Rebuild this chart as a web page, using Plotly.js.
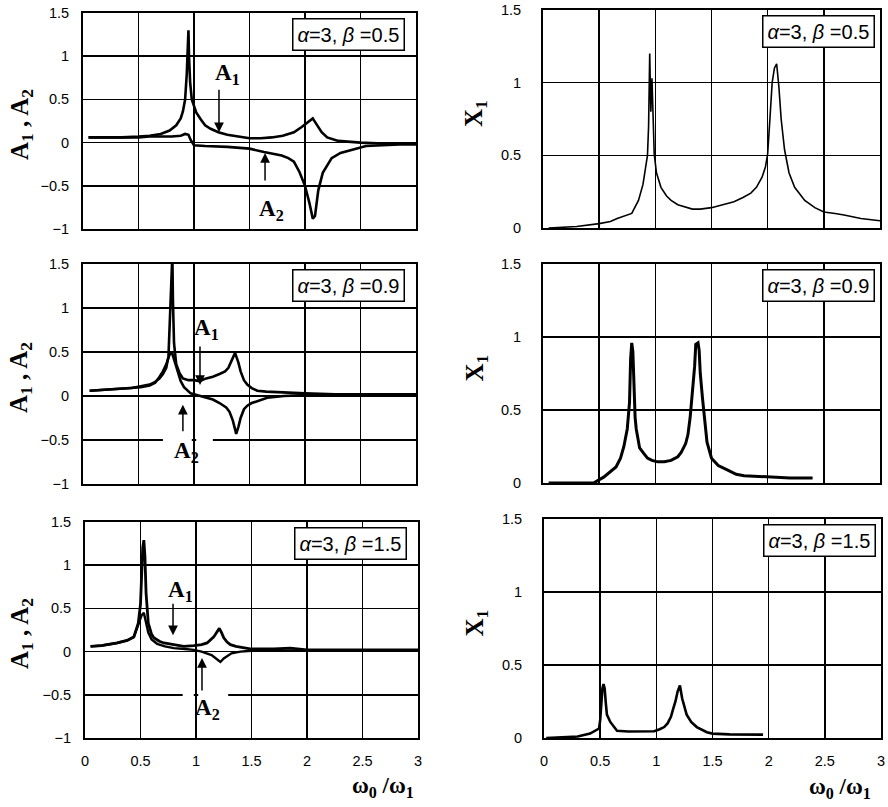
<!DOCTYPE html>
<html>
<head>
<meta charset="utf-8">
<script src="https://cdn.plot.ly/plotly-3.0.1.min.js"></script>
<style>html,body{margin:0;padding:0;background:#fff;}#chart{width:888px;height:807px;}</style>
</head>
<body>
<div id="chart"></div>
<script>
// ---------- data ----------
var betaValues = ['0.5', '0.9', '1.5'];

// beta = 0.5
var xA1_b05 = [0.05,0.2,0.35,0.5,0.6,0.7,0.78,0.84,0.88,0.9,0.92,0.935,0.945,0.95,0.955,0.965,0.98,1.0,1.02,1.06,1.1,1.15,1.22,1.3,1.4,1.5,1.6,1.7,1.8,1.9,1.97,2.02,2.07,2.1,2.15,2.2,2.3,2.5,2.7,3.0];
var yA1_b05 = [0.06,0.06,0.06,0.07,0.08,0.1,0.14,0.2,0.28,0.36,0.5,0.8,1.28,1.3,1.0,0.7,0.5,0.42,0.35,0.27,0.2,0.16,0.12,0.09,0.07,0.05,0.05,0.06,0.08,0.12,0.18,0.23,0.28,0.22,0.12,0.06,0.02,0.0,-0.01,-0.01];
var xA2_b05 = [0.05,0.2,0.35,0.5,0.6,0.7,0.8,0.88,0.92,0.95,0.97,1.0,1.1,1.3,1.5,1.63,1.72,1.79,1.85,1.9,1.95,2.0,2.04,2.07,2.09,2.12,2.16,2.24,2.32,2.4,2.55,2.7,2.85,3.0];
var yA2_b05 = [0.06,0.06,0.06,0.06,0.07,0.07,0.07,0.08,0.1,0.09,0.03,-0.03,-0.04,-0.05,-0.07,-0.11,-0.13,-0.15,-0.18,-0.22,-0.34,-0.5,-0.7,-0.88,-0.85,-0.55,-0.35,-0.18,-0.12,-0.09,-0.04,-0.03,-0.02,-0.02];
var xX1_b05 = [0.05,0.3,0.5,0.6,0.66,0.72,0.79,0.85,0.89,0.91,0.93,0.94,0.945,0.95,0.955,0.96,0.97,0.98,0.99,1.01,1.05,1.1,1.14,1.2,1.26,1.33,1.4,1.5,1.6,1.7,1.78,1.85,1.9,1.95,1.98,2.0,2.02,2.04,2.06,2.08,2.1,2.12,2.15,2.19,2.24,2.33,2.42,2.5,2.6,2.68,2.83,3.0];
var yX1_b05 = [0.0,0.01,0.03,0.045,0.065,0.08,0.1,0.19,0.3,0.4,0.5,0.7,1.0,1.2,1.0,0.8,1.03,0.8,0.51,0.38,0.28,0.22,0.19,0.16,0.145,0.13,0.13,0.14,0.16,0.18,0.21,0.24,0.28,0.35,0.42,0.51,0.75,1.0,1.1,1.13,0.97,0.75,0.54,0.38,0.28,0.19,0.14,0.11,0.1,0.09,0.065,0.05];

// beta = 0.9
var xA1_b09 = [0.06,0.2,0.35,0.44,0.52,0.6,0.65,0.69,0.72,0.75,0.77,0.78,0.79,0.8,0.805,0.81,0.82,0.84,0.87,0.9,0.95,1.0,1.05,1.11,1.17,1.23,1.28,1.31,1.34,1.37,1.4,1.42,1.45,1.48,1.52,1.57,1.65,1.81,2.0,2.27,2.6,3.0];
var yA1_b09 = [0.06,0.07,0.08,0.09,0.11,0.13,0.16,0.2,0.25,0.32,0.45,0.85,1.3,1.6,1.6,1.1,0.6,0.36,0.26,0.2,0.18,0.18,0.17,0.2,0.22,0.25,0.28,0.32,0.4,0.49,0.38,0.28,0.18,0.13,0.09,0.06,0.05,0.04,0.03,0.02,0.02,0.02];
var xA2_b09 = [0.06,0.2,0.35,0.44,0.52,0.6,0.65,0.69,0.72,0.75,0.78,0.8,0.82,0.84,0.86,0.88,0.91,0.94,0.97,1.0,1.08,1.17,1.23,1.29,1.32,1.35,1.37,1.38,1.4,1.42,1.45,1.48,1.52,1.57,1.66,1.81,2.0,2.5,3.0];
var yA2_b09 = [0.06,0.07,0.08,0.09,0.1,0.12,0.15,0.22,0.28,0.36,0.47,0.5,0.42,0.32,0.24,0.17,0.1,0.06,0.03,0.02,-0.01,-0.04,-0.08,-0.13,-0.18,-0.28,-0.38,-0.43,-0.35,-0.25,-0.15,-0.11,-0.08,-0.06,-0.02,0.0,0.01,0.01,0.01];
var xX1_b09 = [0.05,0.3,0.45,0.54,0.6,0.65,0.69,0.72,0.75,0.77,0.78,0.79,0.8,0.81,0.82,0.83,0.86,0.9,0.93,0.97,1.02,1.08,1.14,1.2,1.23,1.27,1.29,1.31,1.33,1.35,1.36,1.38,1.39,1.4,1.42,1.44,1.46,1.5,1.56,1.64,1.72,1.79,1.9,2.0,2.2,2.4];
var yX1_b09 = [0.0,0.0,0.0,0.04,0.075,0.11,0.17,0.25,0.37,0.55,0.85,0.96,0.9,0.65,0.45,0.37,0.24,0.2,0.17,0.155,0.145,0.145,0.155,0.18,0.21,0.27,0.33,0.45,0.6,0.8,0.95,0.96,0.91,0.75,0.58,0.4,0.28,0.17,0.12,0.09,0.06,0.05,0.045,0.04,0.035,0.035];

// beta = 1.5
var xA1_b15 = [0.05,0.15,0.29,0.38,0.44,0.48,0.5,0.51,0.52,0.53,0.54,0.55,0.56,0.57,0.6,0.62,0.67,0.71,0.8,0.89,0.98,1.05,1.1,1.13,1.16,1.19,1.21,1.23,1.25,1.28,1.31,1.36,1.4,1.5,1.7,1.85,2.0,2.25,2.6,3.0];
var yA1_b15 = [0.06,0.07,0.1,0.13,0.17,0.33,0.55,0.88,1.2,1.29,1.1,0.68,0.45,0.33,0.2,0.16,0.12,0.1,0.08,0.06,0.07,0.08,0.1,0.13,0.17,0.23,0.27,0.22,0.16,0.11,0.08,0.06,0.05,0.03,0.03,0.04,0.02,0.02,0.02,0.02];
var xA2_b15 = [0.05,0.15,0.29,0.38,0.44,0.48,0.51,0.53,0.55,0.57,0.6,0.65,0.72,0.8,0.9,0.98,1.05,1.1,1.14,1.18,1.22,1.25,1.28,1.32,1.4,1.5,2.0,2.5,3.0];
var yA2_b15 = [0.06,0.07,0.1,0.13,0.17,0.3,0.42,0.45,0.35,0.22,0.14,0.09,0.06,0.04,0.03,0.02,0.0,-0.02,-0.04,-0.08,-0.12,-0.08,-0.05,-0.02,0.0,0.01,0.01,0.01,0.01];
var xX1_b15 = [0.02,0.3,0.41,0.46,0.49,0.5,0.51,0.52,0.53,0.54,0.55,0.56,0.59,0.65,0.75,0.83,0.98,1.03,1.07,1.1,1.13,1.15,1.17,1.19,1.2,1.21,1.23,1.25,1.27,1.31,1.36,1.45,1.5,1.65,1.77,1.91,1.95];
var yX1_b15 = [0.0,0.01,0.03,0.05,0.065,0.12,0.23,0.34,0.37,0.34,0.24,0.16,0.11,0.05,0.045,0.046,0.046,0.06,0.075,0.1,0.145,0.2,0.25,0.32,0.35,0.36,0.27,0.21,0.16,0.11,0.075,0.04,0.03,0.025,0.025,0.023,0.023];

var xTickVals = [0, 0.5, 1, 1.5, 2, 2.5, 3];
var xTickText = ['0', '0.5', '1', '1.5', '2', '2.5', '3'];
var yTickValsA = [-1, -0.5, 0, 0.5, 1, 1.5];
var yTickTextA = ['\u22121', '\u22120.5', '0', '0.5', '1', '1.5'];
var yTickValsX = [0, 0.5, 1, 1.5];
var yTickTextX = ['0', '0.5', '1', '1.5'];

// ---------- layout helpers ----------
var W = 888, H = 807;
function px(v) { return v / W; }
function py(v) { return 1 - v / H; }

// panel pixel boxes: [left, right, top, bottom]
var boxes = [
  [83, 416, 13, 229],   // TL
  [543, 880, 10, 228],  // TR
  [83, 416, 264, 484],  // ML
  [543, 880, 264, 483], // MR
  [85, 418, 522, 738],  // BL
  [544, 881, 519, 738]  // BR
];

var tickFont = {family: 'Liberation Sans, Arial, sans-serif', size: 14.5, color: '#000'};
var layout = {
  width: W, height: H,
  margin: {l: 0, r: 0, t: 0, b: 0},
  paper_bgcolor: '#fff', plot_bgcolor: '#fff',
  showlegend: false,
  annotations: [],
  shapes: []
};

for (var i = 0; i < 6; i++) {
  var b = boxes[i];
  var n = i + 1;
  var xk = n === 1 ? 'xaxis' : 'xaxis' + n;
  var yk = n === 1 ? 'yaxis' : 'yaxis' + n;
  var isLeft = (i % 2 === 0);
  var isBottom = (i >= 4);
  layout[xk] = {
    domain: [px(b[0]), px(b[1])],
    anchor: n === 1 ? 'y' : 'y' + n,
    range: [0, 3],
    tickvals: xTickVals, ticktext: xTickText,
    showticklabels: isBottom,
    ticks: '', ticklabelstandoff: 9,
    tickfont: tickFont,
    showgrid: true, gridcolor: '#000', gridwidth: 1.5,
    zeroline: false,
    showline: true, linecolor: '#000', linewidth: 2, mirror: true,
    fixedrange: true
  };
  layout[yk] = {
    domain: [py(b[3]), py(b[2])],
    anchor: n === 1 ? 'x' : 'x' + n,
    range: isLeft ? [-1, 1.5] : [0, 1.5],
    tickvals: isLeft ? yTickValsA : yTickValsX,
    ticktext: isLeft ? yTickTextA : yTickTextX,
    ticks: '', ticklabelstandoff: isLeft ? 9 : 17,
    tickfont: tickFont,
    showgrid: true, gridcolor: '#000', gridwidth: 1.5,
    zeroline: false,
    showline: true, linecolor: '#000', linewidth: 2, mirror: true,
    fixedrange: true
  };
  // parameter box in the top-right corner
  var inset = isLeft ? 11 : 5;
  layout.annotations.push({
    xref: 'paper', yref: 'paper',
    x: px(b[1] - inset), y: py(b[2] + 5),
    xanchor: 'right', yanchor: 'top',
    text: '<i>α</i>=3, <i>β</i> =' + betaValues[Math.floor(i / 2)],
    showarrow: false,
    font: {family: 'Liberation Sans, Arial, sans-serif', size: 20, color: '#000'},
    bgcolor: '#fff', bordercolor: '#000', borderwidth: 1.5, borderpad: 4
  });
  // y-axis titles
  var yc = (b[2] + b[3]) / 2;
  layout.annotations.push({
    xref: 'paper', yref: 'paper',
    x: px(isLeft ? 21 : 476), y: py(isLeft ? yc + 4 : yc - 6),
    xanchor: 'center', yanchor: 'middle',
    textangle: -90,
    text: isLeft ? 'A<sub>1</sub> , A<sub>2</sub>' : 'X<sub>1</sub>',
    showarrow: false,
    font: {family: 'Liberation Serif, serif', size: 25, color: '#000', weight: 'bold'}
  });
}

// x-axis titles
[[383, 787], [840, 788]].forEach(function (p) {
  layout.annotations.push({
    xref: 'paper', yref: 'paper',
    x: px(p[0]), y: py(p[1]),
    xanchor: 'center', yanchor: 'middle',
    text: '<b>ω<sub>0</sub> /ω<sub>1</sub></b>',
    showarrow: false,
    font: {family: 'Liberation Serif, serif', size: 23, color: '#000'}
  });
});

// A1 / A2 labels and arrows
var labelFont = {family: 'Liberation Serif, serif', size: 23, color: '#000', weight: 'bold'};
var marks = [
  // [xref, yref, label, textX, textY, tipX, tipY, ay]
  ['x', 'y', 'A<sub>1</sub>', 1.306, 0.79, 1.225, 0.12, -44],
  ['x', 'y', 'A<sub>2</sub>', 1.694, -0.78, 1.64, -0.12, 29],
  ['x3', 'y3', 'A<sub>1</sub>', 1.117, 0.76, 1.054, 0.125, -40],
  ['x3', 'y3', 'A<sub>2</sub>', 0.928, -0.64, 0.90, -0.10, 28],
  ['x5', 'y5', 'A<sub>1</sub>', 0.856, 0.70, 0.793, 0.19, -33],
  ['x5', 'y5', 'A<sub>2</sub>', 1.10, -0.66, 1.054, -0.074, 34]
];
marks.forEach(function (m) {
  layout.annotations.push({
    xref: m[0], yref: m[1], x: m[3], y: m[4],
    text: m[2], showarrow: false, font: labelFont
  });
  layout.annotations.push({
    xref: m[0], yref: m[1], x: m[5], y: m[6],
    text: '', showarrow: true, ax: 0, ay: m[7],
    arrowhead: 2, arrowsize: 1.3, arrowwidth: 1.5, arrowcolor: '#000'
  });
});

// white gaps in the -0.5 grid line around the A2 labels (leaving the x=1 grid line intact)
[['x3', 'y3', 0.72, 0.98], ['x3', 'y3', 1.02, 1.17],
 ['x5', 'y5', 0.88, 0.98], ['x5', 'y5', 1.02, 1.29]].forEach(function (r) {
  layout.shapes.push({type: 'rect', xref: r[0], yref: r[1], x0: r[2], x1: r[3], y0: -0.53, y1: -0.47,
                      fillcolor: '#fff', line: {width: 0}, layer: 'between'});
});

// ---------- traces ----------
function line(x, y, xa, ya, w) {
  return {x: x, y: y, xaxis: xa, yaxis: ya, type: 'scatter', mode: 'lines',
          line: {color: '#000', width: w}, hoverinfo: 'skip'};
}
var data = [
  line(xA1_b05, yA1_b05, 'x', 'y', 2.6),
  line(xA2_b05, yA2_b05, 'x', 'y', 2.6),
  line(xX1_b05, yX1_b05, 'x2', 'y2', 1.6),
  line(xA1_b09, yA1_b09, 'x3', 'y3', 2.6),
  line(xA2_b09, yA2_b09, 'x3', 'y3', 2.6),
  line(xX1_b09, yX1_b09, 'x4', 'y4', 3),
  line(xA1_b15, yA1_b15, 'x5', 'y5', 2.8),
  line(xA2_b15, yA2_b15, 'x5', 'y5', 2.4),
  line(xX1_b15, yX1_b15, 'x6', 'y6', 2.6)
];

Plotly.newPlot('chart', data, layout, {staticPlot: true, displayModeBar: false});
</script>
</body>
</html>
